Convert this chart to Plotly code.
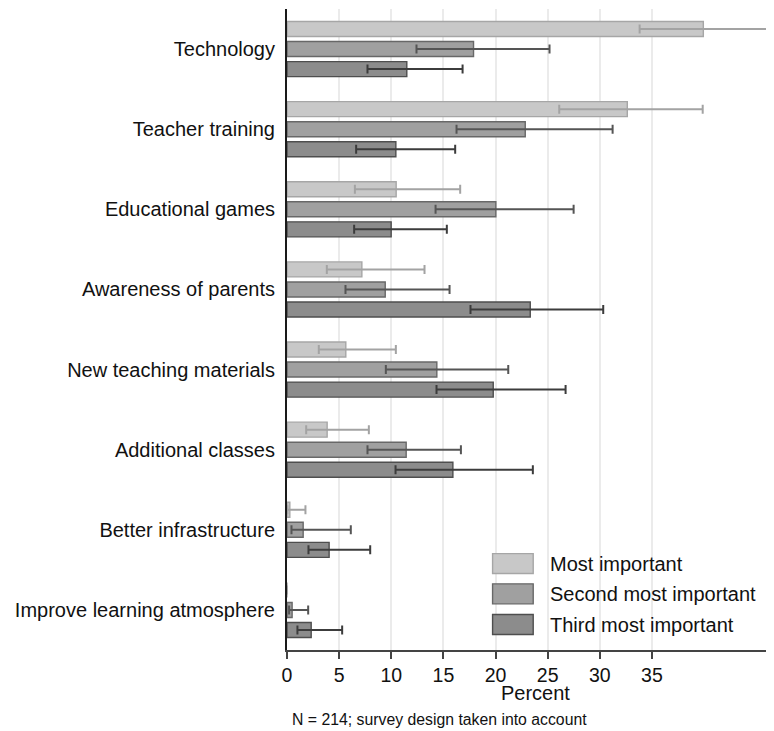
import plotly.graph_objects as go

categories = ["Technology", "Teacher training", "Educational games", "Awareness of parents",
              "New teaching materials", "Additional classes", "Better infrastructure",
              "Improve learning atmosphere"]
series_names = ["Most important", "Second most important", "Third most important"]

most_val = [39.93, 32.64, 10.47, 7.18, 5.64, 3.85, 0.27, 0.0]
most_lo = [33.82, 26.11, 6.51, 3.82, 3.05, 1.84, 0.03, 0.0]
most_hi = [46.39, 39.87, 16.61, 13.19, 10.44, 7.85, 1.77, 0.0]

second_val = [17.89, 22.85, 20.03, 9.42, 14.37, 11.43, 1.55, 0.49]
second_lo = [12.42, 16.26, 14.25, 5.61, 9.48, 7.72, 0.43, 0.20]
second_hi = [25.18, 31.23, 27.49, 15.59, 21.22, 16.68, 6.12, 2.03]

third_val = [11.49, 10.44, 9.99, 23.33, 19.78, 15.91, 4.04, 2.32]
third_lo = [7.72, 6.63, 6.44, 17.60, 14.34, 10.41, 2.06, 1.00]
third_hi = [16.84, 16.13, 15.33, 30.33, 26.72, 23.58, 7.98, 5.29]

x_ticks = [0, 5, 10, 15, 20, 25, 30, 35]
x_title = "Percent"
note = "N = 214; survey design taken into account"

fills = ["#c8c8c8", "#a0a0a0", "#8c8c8c"]
borders = ["#a6a6a6", "#686868", "#4e4e4e"]
errcols = ["#a3a3a3", "#555555", "#3c3c3c"]

FONT = "Liberation Sans, Arial, Helvetica, sans-serif"

# page is 774x731, the html body adds an 8px margin at top/left
OFF = 8
PAGE_W, PAGE_H = 774, 731
W, H = PAGE_W - OFF, PAGE_H - OFF
AXIS_X, TOP_Y, AXIS_Y = 287.2, 9, 650.5  # page pixels
ML = AXIS_X - OFF
MT = TOP_Y - OFF
MB = PAGE_H - AXIS_Y
MR = 0
PW, PH = W - ML - MR, H - MT - MB


def px_x(px):
    return (px - AXIS_X) / PW


def px_y(py):
    return (AXIS_Y - py) / PH


fig = go.Figure()
for i, (name, v, lo, hi) in enumerate(zip(series_names,
                                          [most_val, second_val, third_val],
                                          [most_lo, second_lo, third_lo],
                                          [most_hi, second_hi, third_hi])):
    fig.add_trace(go.Bar(
        y=categories, x=v, orientation="h", name=name, showlegend=False,
        marker=dict(color=fills[i], line=dict(color=borders[i], width=1.4)),
        error_x=dict(type="data", symmetric=False,
                     array=[h - a for h, a in zip(hi, v)],
                     arrayminus=[a - l for a, l in zip(v, lo)],
                     color=errcols[i], thickness=2, width=4.5),
    ))

# legend (manual, boxes + text)
box_tops = [554, 584.3, 615]
for i, name in enumerate(series_names):
    fig.add_shape(type="rect", xref="paper", yref="paper",
                  x0=px_x(492.7), x1=px_x(533.3),
                  y0=px_y(box_tops[i] + 20), y1=px_y(box_tops[i]),
                  fillcolor=fills[i], line=dict(color=borders[i], width=1.4))
    fig.add_annotation(xref="paper", yref="paper", x=px_x(548), y=px_y(box_tops[i] + 10.5),
                       text=name, showarrow=False, xanchor="left", yanchor="middle",
                       font=dict(family=FONT, size=20, color="#111111"))

fig.add_annotation(xref="paper", yref="paper", x=px_x(535.5), y=px_y(694),
                   text=x_title, showarrow=False, xanchor="center", yanchor="middle",
                   font=dict(family=FONT, size=20, color="#111111"))
fig.add_annotation(xref="paper", yref="paper", x=px_x(290), y=px_y(720.5),
                   text=note, showarrow=False, xanchor="left", yanchor="middle",
                   font=dict(family=FONT, size=15.8, color="#111111"))

fig.update_layout(
    template="none",
    width=W, height=H,
    margin=dict(l=ML, r=MR, t=MT, b=MB, pad=0),
    paper_bgcolor="white", plot_bgcolor="white",
    barmode="group", bargap=0.25, bargroupgap=0.25,
    font=dict(family=FONT, size=20, color="#111111"),
    showlegend=False,
)
fig.update_xaxes(
    range=[0, PW / 10.422], tickvals=x_ticks, ticktext=[str(t) for t in x_ticks],
    showgrid=True, gridcolor="#ebebeb", gridwidth=1.5, zeroline=False,
    showline=True, linecolor="#444444", linewidth=1.5,
    ticks="outside", ticklen=7, tickwidth=1.5, tickcolor="#444444",
    ticklabelstandoff=0,
    tickfont=dict(family=FONT, size=19.5, color="#111111"), automargin=False,
)
fig.update_yaxes(
    autorange="reversed", categoryorder="array", categoryarray=categories,
    showgrid=False, zeroline=False,
    showline=True, linecolor="#1a1a1a", linewidth=2,
    ticks="", ticklabelstandoff=6,
    tickfont=dict(family=FONT, size=20, color="#111111"), automargin=False,
)

fig.write_html("out.html")
